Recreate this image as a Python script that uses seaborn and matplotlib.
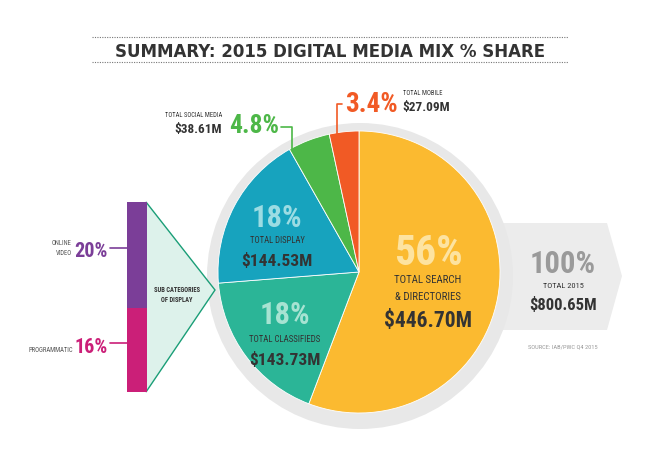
import numpy as np
import pandas as pd
import matplotlib
matplotlib.use("Agg")
import matplotlib.pyplot as plt
import seaborn as sns
from matplotlib.patches import Circle, Polygon

# ---------------- data ----------------
categories = ["Search & Directories", "Classifieds", "Display", "Social Media", "Mobile"]
spend_musd = [446.70, 143.73, 144.53, 38.61, 27.09]
share_labels = ["56%", "18%", "18%", "4.8%", "3.4%"]
spend_labels = ["$446.70M", "$143.73M", "$144.53M", "$38.61M", "$27.09M"]
slice_colors = ["#FBBA30", "#2BB597", "#17A3BE", "#4DB748", "#F15A25"]
display_subcats = ["ONLINE VIDEO", "PROGRAMMATIC"]
display_sub_share = [20, 16]
display_sub_labels = ["20%", "16%"]
sub_colors = ["#7B3E98", "#CB1F78"]
total_share_label = "100%"
total_spend_label = "$800.65M"

sns.set_theme(style="white")
NARROW = ["Roboto Condensed", "DejaVu Sans Condensed", "Liberation Sans Narrow", "Roboto", "DejaVu Sans"]
plt.rcParams["font.family"] = NARROW

W, H = 660, 467
fig = plt.figure(figsize=(6.6, 4.67), dpi=100)
fig.patch.set_facecolor("white")
ax = fig.add_axes([0, 0, 1, 1])


def Y(y):
    return H - y


DARK = "#333333"

# gray "total" arrow behind the pie
ax.add_patch(Polygon([(470, Y(223)), (607, Y(223)), (622, Y(276)), (607, Y(330)), (470, Y(330))],
                     closed=True, fc="#ECECEC", ec="none", zorder=0.5))
# ring around the pie
ax.add_patch(Circle((360, Y(276)), 153, fc="#E8E8E8", ec="none", zorder=0.8))

ax.pie(spend_musd, colors=slice_colors, startangle=90, counterclock=False,
       center=(359, Y(272)), radius=141, frame=True,
       wedgeprops=dict(edgecolor="white", linewidth=0.6))
ax.set_xlim(0, W)
ax.set_ylim(0, H)
ax.set_aspect("equal")
ax.axis("off")

# title and dotted rules
ax.plot([92, 568], [Y(37), Y(37)], ls=(0, (1, 1.2)), color="#777777", lw=0.8)
ax.plot([92, 568], [Y(62), Y(62)], ls=(0, (1, 1.2)), color="#777777", lw=0.8)
ax.text(330, Y(57), "SUMMARY: 2015 DIGITAL MEDIA MIX % SHARE", ha="center", va="baseline",
        fontsize=12, fontweight="bold", color=DARK, family="DejaVu Sans")


def T(x, y, s, size, color=DARK, weight="bold", ha="center"):
    ax.text(x, Y(y), s, fontsize=size, fontweight=weight, color=color, ha=ha, va="baseline", zorder=5)


# search
T(428, 265, share_labels[0], 30, "#FDE3A0")
T(428, 283, "TOTAL SEARCH", 7.8, weight="normal")
T(428, 300, "& DIRECTORIES", 7.8, weight="normal")
T(428, 327, spend_labels[0], 15.5)
# classifieds
T(285, 324, share_labels[1], 22, "#A7E3D2")
T(285, 342, "TOTAL CLASSIFIEDS", 6.4, weight="normal")
T(285, 365, spend_labels[1], 12.5)
# display
T(277, 227, share_labels[2], 22, "#9CDCE3")
T(277, 243, "TOTAL DISPLAY", 6.2, weight="normal")
T(277, 266, spend_labels[2], 12.5)
# social media
T(254, 133, share_labels[3], 18.5, slice_colors[3])
T(222, 117, "TOTAL SOCIAL MEDIA", 4.7, weight="normal", ha="right")
T(222, 133, spend_labels[3], 9.5, ha="right")
ax.plot([281, 292, 292], [Y(127), Y(127), Y(150)], color=slice_colors[3], lw=1.2, zorder=4)
# mobile
T(372, 112, share_labels[4], 19.5, slice_colors[4])
T(403, 95, "TOTAL MOBILE", 4.7, weight="normal", ha="left")
T(402, 111, spend_labels[4], 9.5, ha="left")
ax.plot([342, 337, 337], [Y(104), Y(104), Y(134)], color=slice_colors[4], lw=1.2, zorder=4)

# total
T(563, 273, total_share_label, 22, "#9A9A9A")
T(563, 288, "TOTAL 2015", 6, weight="normal")
T(563, 310, total_spend_label, 12)
T(563, 348, "SOURCE: IAB/PWC Q4 2015", 4.6, "#9A9A9A", weight="normal")

# sub-category triangle
ax.add_patch(Polygon([(146, Y(202)), (215, Y(290)), (146, Y(392))], closed=True,
                     fc="#DDF2EB", ec="#1A9E77", lw=1.0, zorder=2))
T(177, 292, "SUB CATEGORIES", 4.7)
T(177, 302, "OF DISPLAY", 4.7)

# left labels
T(91, 257, display_sub_labels[0], 14.5, sub_colors[0])
T(72, 245, "ONLINE", 4.7, "#555555", weight="normal", ha="right")
T(72, 255, "VIDEO", 4.7, "#555555", weight="normal", ha="right")
ax.plot([110, 127], [Y(248), Y(248)], color=sub_colors[0], lw=1.2)
T(91, 353, display_sub_labels[1], 14.5, sub_colors[1])
T(73, 352, "PROGRAMMATIC", 4.8, "#555555", weight="normal", ha="right")
ax.plot([110, 127], [Y(343), Y(343)], color=sub_colors[1], lw=1.2)

# stacked sub-category bar (seaborn)
bax = fig.add_axes([127 / W, (H - 392) / H, 20 / W, 190 / H])
total_sub = sum(display_sub_share)
df_top = pd.DataFrame({"k": ["display"], "v": [total_sub]})
df_bot = pd.DataFrame({"k": ["display"], "v": [display_sub_share[1]]})
sns.barplot(data=df_top, x="k", y="v", color=sub_colors[0], saturation=1, width=1, ax=bax, linewidth=0)
sns.barplot(data=df_bot, x="k", y="v", color=sub_colors[1], saturation=1, width=1, ax=bax, linewidth=0)
bax.set_xlim(-0.5, 0.5)
bax.set_ylim(0, total_sub)
bax.axis("off")

fig.savefig("out.png", dpi=100, facecolor="white")
